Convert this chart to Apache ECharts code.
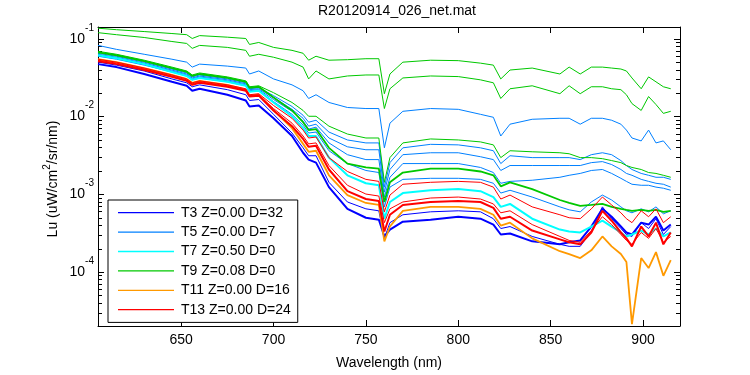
<!DOCTYPE html>
<html>
<head>
<meta charset="utf-8">
<script src="https://cdn.jsdelivr.net/npm/echarts@6/dist/echarts.min.js"></script>
<style>
  html, body { margin: 0; padding: 0; background: #fff; }
  #chart { width: 750px; height: 375px; }
</style>
</head>
<body>
<div id="chart"></div>
<script>
// wavelength samples (nm)
const wl = [605, 615, 630, 645, 653, 656, 660, 675, 685, 687, 692, 700, 710, 716, 719, 723, 730, 740, 750, 757,
  760, 763, 770, 785, 800, 812, 819, 823, 828, 840, 855, 860, 866, 872, 878, 883, 888, 891, 894, 899, 903, 907, 911, 915];

// Lu (uW/cm^2/sr/nm)
const t3a = [0.0501,0.0459,0.0386,0.0305,0.0272,0.0242,0.0256,0.0222,0.0191,0.0161,0.0166,0.0107,0.00615,0.00397,0.00314,0.00314,0.00143,0.000799,0.000652,0.000615,0.000272,0.000433,0.000547,0.000597,0.000615,0.000597,0.000487,0.000364,0.000386,0.000288,0.000228,0.000215,0.000215,0.000333,0.000691,0.000487,0.000364,0.000305,0.000288,0.000433,0.000364,0.000487,0.000305,0.000386];
const t3b = [0.0473,0.0433,0.0353,0.028,0.0249,0.0215,0.0228,0.0191,0.0161,0.0135,0.0139,0.00952,0.00563,0.00343,0.0028,0.00256,0.00124,0.000652,0.000501,0.000473,0.000288,0.000353,0.000446,0.000473,0.000516,0.000487,0.000409,0.000305,0.000314,0.000249,0.000228,0.000242,0.000256,0.000386,0.000652,0.000516,0.000386,0.000324,0.000305,0.000433,0.000409,0.000516,0.000343,0.000409];
const t5a = [0.0823,0.0732,0.0633,0.0547,0.0501,0.0433,0.0473,0.0446,0.0421,0.0353,0.0386,0.0305,0.0256,0.0215,0.0171,0.0191,0.0152,0.0131,0.0127,0.0127,0.00397,0.00823,0.0117,0.0127,0.0124,0.0107,0.0098,0.00563,0.00799,0.00924,0.00952,0.00952,0.00799,0.00952,0.00952,0.00898,0.00799,0.00671,0.00531,0.00487,0.00671,0.00459,0.00487,0.00375];
const t5b = [0.0652,0.0597,0.0501,0.0409,0.0364,0.0324,0.0343,0.0305,0.0272,0.0228,0.0235,0.0186,0.0135,0.0104,0.00847,0.00898,0.00633,0.00501,0.00459,0.00459,0.00124,0.00256,0.00397,0.0044,0.00433,0.00397,0.00364,0.00249,0.00314,0.00297,0.00297,0.00297,0.0028,0.00324,0.00343,0.00324,0.00272,0.00235,0.00209,0.00186,0.00176,0.00166,0.00166,0.00156];
const t5c = [0.0633,0.058,0.0487,0.0397,0.0353,0.0314,0.0333,0.0297,0.0264,0.0222,0.0228,0.0176,0.0124,0.00952,0.00754,0.00799,0.00531,0.00409,0.00375,0.00375,0.00107,0.00209,0.00324,0.00343,0.00343,0.00305,0.0028,0.00203,0.00235,0.00235,0.00235,0.00235,0.00235,0.00256,0.00264,0.00242,0.00209,0.00186,0.00176,0.00156,0.00147,0.00139,0.00135,0.00124];
const t5d = [0.0615,0.0563,0.0473,0.0386,0.0343,0.0305,0.0324,0.0288,0.0256,0.0215,0.0222,0.0166,0.0117,0.00872,0.00691,0.00732,0.00459,0.00324,0.0028,0.0028,0.000924,0.00166,0.00249,0.00249,0.00249,0.00222,0.00191,0.00139,0.00147,0.00152,0.00166,0.00176,0.00186,0.00203,0.00209,0.00186,0.00161,0.00147,0.00135,0.00131,0.00131,0.00124,0.0012,0.00113];
const t5e = [0.0597,0.0547,0.0459,0.0375,0.0333,0.0297,0.0314,0.028,0.0249,0.0209,0.0215,0.0156,0.0107,0.00776,0.00615,0.00633,0.00364,0.00249,0.00203,0.00191,0.000691,0.00124,0.00156,0.00161,0.00161,0.00156,0.00139,0.00104,0.00113,0.000924,0.000691,0.000633,0.000597,0.000799,0.00098,0.000847,0.000691,0.000615,0.00058,0.000652,0.000597,0.000691,0.000563,0.000615];
const t7 = [0.0615,0.0563,0.0473,0.0375,0.0333,0.0297,0.0314,0.028,0.0249,0.0209,0.0215,0.0152,0.0101,0.00711,0.00563,0.00563,0.00297,0.00176,0.00139,0.00131,0.000487,0.000799,0.00104,0.00113,0.00117,0.0011,0.000924,0.000691,0.000754,0.000487,0.000353,0.000333,0.000324,0.000386,0.000459,0.000386,0.000324,0.000288,0.000305,0.000343,0.000305,0.000364,0.000288,0.000324];
const t9a = [0.137,0.131,0.124,0.117,0.113,0.101,0.110,0.105,0.101,0.0847,0.0898,0.0776,0.0711,0.0652,0.0531,0.0597,0.0531,0.0539,0.0555,0.0555,0.0197,0.0353,0.0501,0.0531,0.0524,0.0487,0.0459,0.0305,0.0397,0.0421,0.0353,0.0433,0.0353,0.0433,0.0433,0.0421,0.0409,0.0386,0.0314,0.0228,0.0324,0.0280,0.0242,0.0228];
const t9b = [0.120,0.113,0.104,0.0924,0.0872,0.0754,0.0823,0.0776,0.0711,0.0597,0.0633,0.0580,0.0501,0.0433,0.0305,0.0386,0.0305,0.0333,0.0343,0.0343,0.0127,0.0228,0.0314,0.0333,0.0327,0.0297,0.0272,0.0171,0.0228,0.0249,0.0197,0.0249,0.0197,0.0242,0.0242,0.0228,0.0222,0.0191,0.0147,0.0120,0.0181,0.0143,0.0110,0.0117];
const t9c = [0.0691,0.0633,0.0531,0.0433,0.0386,0.0343,0.0364,0.0324,0.0288,0.0242,0.0249,0.0203,0.0152,0.0120,0.0101,0.0101,0.00754,0.00597,0.00531,0.00531,0.00143,0.00297,0.00459,0.00516,0.00501,0.00473,0.00433,0.00297,0.00364,0.00353,0.00343,0.00333,0.00297,0.00297,0.00288,0.00272,0.00256,0.00235,0.00222,0.00209,0.00191,0.00186,0.00176,0.00166];
const t9d = [0.0671,0.0615,0.0516,0.0421,0.0375,0.0333,0.0353,0.0314,0.028,0.0235,0.0242,0.0176,0.012,0.00847,0.00671,0.00691,0.00397,0.00249,0.00222,0.00215,0.000799,0.00143,0.00191,0.00215,0.00215,0.00197,0.00176,0.00127,0.00143,0.00117,0.000847,0.000776,0.000711,0.000732,0.000754,0.000691,0.000652,0.000633,0.000615,0.000633,0.000615,0.000633,0.000597,0.000615];
const t11 = [0.0547,0.0501,0.0421,0.0343,0.0305,0.0272,0.0288,0.0256,0.0222,0.0186,0.0191,0.012,0.00711,0.00446,0.00353,0.00364,0.00176,0.00098,0.000776,0.000732,0.000249,0.000386,0.000615,0.000691,0.000691,0.000652,0.000547,0.000397,0.000433,0.000272,0.000186,0.000171,0.000152,0.000191,0.000288,0.000215,0.000171,0.000135,0.0000215,0.000152,0.000113,0.000181,0.0000898,0.000143];
const t13a = [0.0547,0.0501,0.0421,0.0343,0.0305,0.0272,0.0288,0.0256,0.0228,0.0191,0.0197,0.0139,0.00952,0.00671,0.00531,0.00547,0.00297,0.00197,0.00156,0.00147,0.000597,0.00098,0.00135,0.00143,0.00147,0.00143,0.00124,0.000872,0.00098,0.000691,0.000547,0.000501,0.000487,0.000652,0.000924,0.000732,0.00058,0.000487,0.000433,0.000615,0.000516,0.000652,0.000433,0.000516];
const t13b = [0.0531,0.0487,0.0409,0.0333,0.0297,0.0264,0.028,0.0249,0.0222,0.0186,0.0191,0.0127,0.00823,0.00563,0.00446,0.00459,0.00235,0.00131,0.00101,0.000952,0.000433,0.000652,0.000799,0.000898,0.000924,0.000872,0.000754,0.00058,0.000615,0.000409,0.000288,0.000256,0.000242,0.000343,0.000516,0.000409,0.000305,0.000256,0.000228,0.000324,0.000272,0.000364,0.000242,0.000288];
const t13c = [0.0516,0.0473,0.0397,0.0324,0.0288,0.0256,0.0272,0.0242,0.0215,0.0181,0.0186,0.012,0.00754,0.00516,0.00409,0.00421,0.00209,0.0011,0.000872,0.000823,0.000333,0.000547,0.000732,0.000799,0.000823,0.000799,0.000671,0.000487,0.000516,0.000343,0.000264,0.000242,0.000228,0.000324,0.000615,0.000459,0.000324,0.000272,0.000215,0.000386,0.000288,0.000433,0.000228,0.000324];

const names = ['T3 Z=0.00 D=32', 'T5 Z=0.00 D=7', 'T7 Z=0.50 D=0', 'T9 Z=0.08 D=0', 'T11 Z=0.00 D=16', 'T13 Z=0.00 D=24'];
const colors = ['#0000ff', '#0080ff', '#00ffff', '#00c800', '#ff9900', '#ff0000'];
const xTicks = [650, 700, 750, 800, 850, 900];
const yMajor = [-4, -3, -2, -1];   // decades
const yMin = -4.692, yMax = -0.848; // log10 of axis limits

// [legend group, values, line width]
const lines = [
  [0, t3a, 1], [0, t3b, 2],
  [1, t5a, 1], [1, t5b, 1], [1, t5c, 1], [1, t5d, 1], [1, t5e, 1],
  [2, t7, 2],
  [3, t9a, 1], [3, t9b, 1], [3, t9c, 1], [3, t9d, 1.8],
  [4, t11, 1.8],
  [5, t13a, 1], [5, t13b, 1], [5, t13c, 2]
];

const yMinor = [];
for (let n = -5; n <= -1; n++) {
  for (let k = 2; k <= 9; k++) {
    const v = n + Math.log10(k);
    if (v > yMin && v < yMax) yMinor.push(v);
  }
}

const font = 'Liberation Sans, Arial, Helvetica, sans-serif';

const series = lines.map(function (l) {
  return {
    name: names[l[0]],
    type: 'line',
    symbol: 'none',
    color: colors[l[0]],
    lineStyle: { width: l[2], color: colors[l[0]] },
    data: wl.map(function (w, i) { return [w, Math.log10(l[1][i])]; })
  };
});

function yAxisCfg(pos, ticks, len, labels) {
  return {
    type: 'value',
    position: pos,
    min: yMin,
    max: yMax,
    splitLine: { show: false },
    axisLine: { show: labels, lineStyle: { color: '#000', width: 1 } },
    axisTick: { show: true, inside: true, length: len, customValues: ticks, lineStyle: { color: '#000' } },
    axisLabel: labels && pos === 'left' ? {
      show: true,
      customValues: ticks,
      margin: 4,
      formatter: function (v) { return '{b|10}{s|' + Math.round(v) + '}'; },
      rich: {
        b: { fontSize: 14, color: '#000', fontFamily: font },
        s: { fontSize: 10, color: '#000', fontFamily: font, padding: [0, 0, 22, 0] }
      }
    } : { show: false }
  };
}

function xAxisCfg(pos, labels) {
  return {
    type: 'value',
    position: pos,
    min: 605,
    max: 920,
    splitLine: { show: false },
    axisLine: { show: true, onZero: false, lineStyle: { color: '#000', width: 1 } },
    axisTick: { show: true, inside: true, length: 6, customValues: xTicks, lineStyle: { color: '#000' } },
    axisLabel: labels ? { show: true, customValues: xTicks, margin: 7, color: '#000', fontSize: 14, fontFamily: font } : { show: false },
    name: labels ? 'Wavelength (nm)' : '',
    nameLocation: 'middle',
    nameGap: 30,
    nameTextStyle: { color: '#000', fontSize: 14, fontFamily: font }
  };
}

const chart = echarts.init(document.getElementById('chart'));
chart.setOption({
  animation: false,
  backgroundColor: '#fff',
  title: {
    text: 'R20120914_026_net.mat',
    left: 397,
    top: 4,
    padding: 0,
    textAlign: 'center',
    textStyle: { color: '#000', fontSize: 14, fontWeight: 'normal', fontFamily: font }
  },
  grid: { left: 98, right: 70, top: 27, bottom: 44 },
  xAxis: [xAxisCfg('bottom', true), xAxisCfg('top', false)],
  yAxis: [
    yAxisCfg('left', yMajor, 6, true),
    yAxisCfg('left', yMinor, 4, false),
    yAxisCfg('right', yMajor, 6, true),
    yAxisCfg('right', yMinor, 4, false)
  ],
  legend: {
    orient: 'vertical',
    left: 108,
    top: 200,
    padding: [3, 7, 3, 10],
    itemWidth: 56,
    itemHeight: 1.3,
    itemGap: 0,
    borderColor: '#000',
    borderWidth: 1,
    borderRadius: 0,
    backgroundColor: '#fff',
    textStyle: { color: '#000', fontSize: 14, lineHeight: 19.4, fontFamily: font, padding: [0, 0, 0, 2] },
    data: names.map(function (n) { return { name: n, icon: 'rect' }; })
  },
  graphic: [{
    type: 'text',
    x: 53,
    y: 179,
    rotation: Math.PI / 2,
    style: {
      text: '{a|Lu (uW/cm}{s|2}{a|/sr/nm)}',
      align: 'center',
      verticalAlign: 'middle',
      rich: {
        a: { fontSize: 14, fill: '#000', fontFamily: font },
        s: { fontSize: 10, fill: '#000', fontFamily: font, padding: [0, 0, 12, 0] }
      }
    }
  }],
  series: series
});
</script>
</body>
</html>
